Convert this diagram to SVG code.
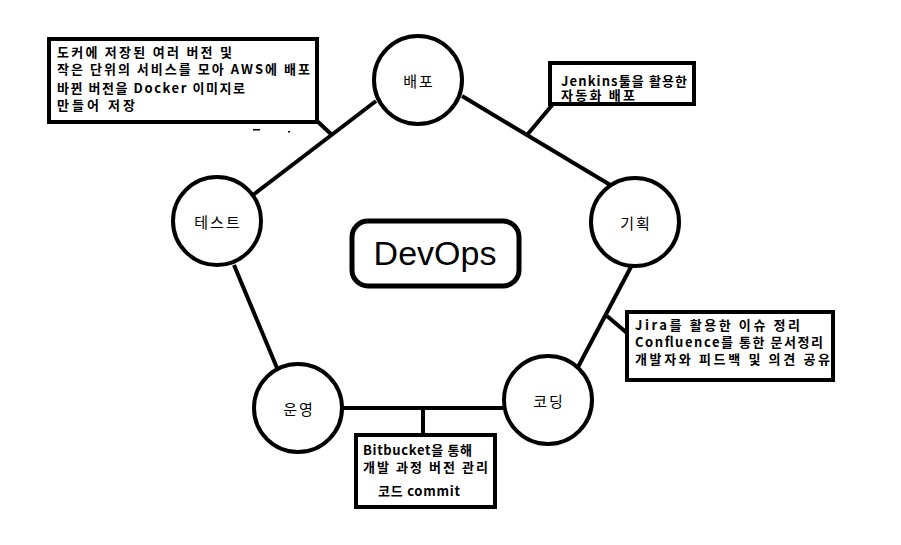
<svg xmlns="http://www.w3.org/2000/svg" width="901" height="545" viewBox="0 0 901 545">
<style>
.c{fill:#fff;stroke:#000;stroke-width:4}
.b{fill:#fff;stroke:#000;stroke-width:4}
.l{stroke:#000;stroke-width:4;fill:none}
.t{font-family:"Noto Sans CJK KR","Noto Sans",sans-serif;font-size:13px;font-weight:bold;fill:#000}
.n{font-family:"Noto Sans CJK KR","Noto Sans",sans-serif;font-size:15px;letter-spacing:2px;fill:#000;text-anchor:middle;dominant-baseline:central}
</style>
<rect width="901" height="545" fill="#fff"/>
<g id="connectors">
<line class="l" x1="376" y1="101" x2="253" y2="195"/>
<line class="l" x1="462" y1="96" x2="612" y2="186"/>
<line class="l" x1="234" y1="265" x2="277" y2="368"/>
<line class="l" x1="632" y1="265" x2="578" y2="367"/>
<line class="l" x1="343" y1="408" x2="503" y2="408"/>
<line class="l" x1="317" y1="121" x2="331" y2="134"/>
<line class="l" x1="553" y1="104" x2="527" y2="135"/>
<line class="l" x1="607" y1="316" x2="627" y2="333"/>
<line class="l" x1="423" y1="408" x2="423" y2="435"/>
<rect x="253" y="129" width="7" height="1.5" fill="#000"/>
<rect x="288" y="131" width="2" height="1.5" fill="#000"/>
</g>
<g id="node-deploy"><circle class="c" cx="418" cy="80" r="44"/><text class="n" x="419" y="80">배포</text></g>
<g id="node-test"><circle class="c" cx="217" cy="221" r="44"/><text class="n" x="218" y="221">테스트</text></g>
<g id="node-plan"><circle class="c" cx="635" cy="222" r="44"/><text class="n" x="636" y="222">기획</text></g>
<g id="node-ops"><circle class="c" cx="298" cy="408" r="44"/><text class="n" x="299" y="408">운영</text></g>
<g id="node-code"><circle class="c" cx="548" cy="400" r="44"/><text class="n" x="549" y="400">코딩</text></g>
<g id="node-devops"><rect x="352" y="221" width="167" height="65" rx="16" fill="#fff" stroke="#000" stroke-width="5"/><text x="435" y="265" font-family="Liberation Sans, Arial, sans-serif" font-size="34" text-anchor="middle">DevOps</text></g>
<g id="note-deploy"><rect class="b" x="49" y="39" width="268" height="83"/>
<text class="t" x="57" y="57" textLength="175" lengthAdjust="spacing">도커에 저장된 여러 버전 및</text>
<text class="t" x="57" y="74" textLength="253" lengthAdjust="spacing">작은 단위의 서비스를 모아 AWS에 배포</text>
<text class="t" x="57" y="93" textLength="188" lengthAdjust="spacing">바뀐 버전을 Docker 이미지로</text>
<text class="t" x="57" y="110" textLength="78" lengthAdjust="spacing">만들어 저장</text></g>
<g id="note-jenkins"><rect class="b" x="550" y="63" width="144" height="41"/>
<text class="t" x="561" y="86" textLength="126" lengthAdjust="spacing">Jenkins툴을 활용한</text>
<text class="t" x="561" y="100" textLength="74" lengthAdjust="spacing">자동화 배포</text></g>
<g id="note-jira"><rect class="b" x="627" y="312" width="206" height="68"/>
<text class="t" x="635" y="330" textLength="165" lengthAdjust="spacing">Jira를 활용한 이슈 정리</text>
<text class="t" x="635" y="347" textLength="188" lengthAdjust="spacing">Confluence를 통한 문서정리</text>
<text class="t" x="635" y="364" textLength="195" lengthAdjust="spacing">개발자와 피드백 및 의견 공유</text></g>
<g id="note-bitbucket"><rect class="b" x="356" y="435" width="139" height="72"/>
<text class="t" x="363" y="455" textLength="109" lengthAdjust="spacing">Bitbucket을 통해</text>
<text class="t" x="363" y="472" textLength="125" lengthAdjust="spacing">개발 과정 버전 관리</text>
<text class="t" x="378" y="496" textLength="82" lengthAdjust="spacing">코드 commit</text></g>
</svg>
